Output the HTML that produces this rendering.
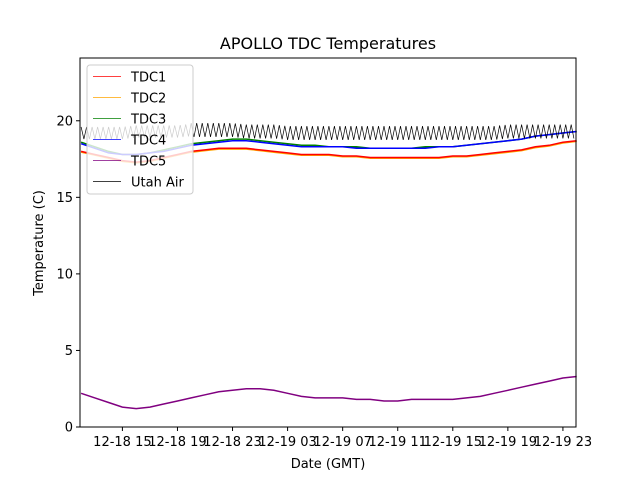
<!DOCTYPE html>
<html><head><meta charset="utf-8"><style>
body{margin:0;background:#fff}
svg{font-family:"DejaVu Sans","Liberation Sans",sans-serif}
</style></head><body>
<svg id="chart" width="640" height="480">
<rect width="640" height="480" fill="#fff"/>
<text x="328" y="49" text-anchor="middle" font-size="16">APOLLO TDC Temperatures</text>
<text x="328" y="468" text-anchor="middle" font-size="13">Date (GMT)</text>
<text transform="translate(43,243) rotate(-90)" text-anchor="middle" font-size="13">Temperature (C)</text>
<g id="plot"></g>
<g id="axes"></g>
</svg>
<script>
const hours=[12,13,14,15,16,17,18,19,20,21,22,23,24,25,26,27,28,29,30,31,32,33,34,35,36,37,38,39,40,41,42,43,44,45,46,47,48];
const tdc1=[18.0,17.8,17.6,17.4,17.3,17.4,17.6,17.8,18.0,18.1,18.2,18.2,18.2,18.1,18.0,17.9,17.8,17.8,17.8,17.7,17.7,17.6,17.6,17.6,17.6,17.6,17.6,17.7,17.7,17.8,17.9,18.0,18.1,18.3,18.4,18.6,18.7];
const tdc2=[17.95,17.75,17.55,17.35,17.25,17.35,17.55,17.75,17.95,18.05,18.15,18.15,18.15,18.05,17.95,17.85,17.75,17.75,17.75,17.65,17.65,17.55,17.55,17.55,17.55,17.55,17.55,17.65,17.65,17.75,17.85,17.95,18.05,18.25,18.35,18.55,18.65];
const tdc3=[18.6,18.3,18.0,17.8,17.8,17.9,18.1,18.3,18.5,18.6,18.7,18.8,18.8,18.7,18.6,18.5,18.4,18.4,18.3,18.3,18.3,18.2,18.2,18.2,18.2,18.3,18.3,18.3,18.4,18.5,18.6,18.7,18.8,19.0,19.1,19.2,19.3];
const tdc4=[18.5,18.2,17.9,17.8,17.8,17.9,18.0,18.2,18.4,18.5,18.6,18.7,18.7,18.6,18.5,18.4,18.3,18.3,18.3,18.3,18.2,18.2,18.2,18.2,18.2,18.2,18.3,18.3,18.4,18.5,18.6,18.7,18.8,19.0,19.1,19.2,19.3];
const tdc5=[2.2,1.9,1.6,1.3,1.2,1.3,1.5,1.7,1.9,2.1,2.3,2.4,2.5,2.5,2.4,2.2,2.0,1.9,1.9,1.9,1.8,1.8,1.7,1.7,1.8,1.8,1.8,1.8,1.9,2.0,2.2,2.4,2.6,2.8,3.0,3.2,3.3];
const air=[19.2,19.2,19.2,19.2,19.3,19.3,19.3,19.3,19.4,19.4,19.4,19.4,19.3,19.3,19.3,19.2,19.2,19.2,19.2,19.2,19.2,19.2,19.2,19.2,19.2,19.2,19.2,19.2,19.2,19.2,19.2,19.3,19.3,19.3,19.3,19.3,19.3];
const airSwing=[0.4,0.4,0.4,0.4,0.4,0.4,0.4,0.4,0.45,0.45,0.45,0.45,0.45,0.45,0.45,0.45,0.45,0.45,0.45,0.45,0.45,0.45,0.45,0.45,0.45,0.45,0.45,0.45,0.45,0.45,0.45,0.45,0.45,0.45,0.45,0.45,0.45];
const yTicks=[0,5,10,15,20];
const xTickHours=[15,19,23,27,31,35,39,43,47];
const xTickLabels=["12-18 15","12-18 19","12-18 23","12-19 03","12-19 07","12-19 11","12-19 15","12-19 19","12-19 23"];
const L=80,R=576,T=58,B=427,X0=11.92,X1=47.95,Y0=0,Y1=24.1;
const sx=h=>L+(h-X0)/(X1-X0)*(R-L);
const sy=v=>B-(v-Y0)/(Y1-Y0)*(B-T);
const NS="http://www.w3.org/2000/svg";
const plot=document.getElementById('plot'),axes=document.getElementById('axes');
function mk(tag,attrs,parent){const e=document.createElementNS(NS,tag);for(const k in attrs)e.setAttribute(k,attrs[k]);parent.appendChild(e);return e;}
function line(vals,color,name){
  const d=vals.map((v,i)=>(i?'L':'M')+sx(hours[i]).toFixed(1)+','+sy(v).toFixed(1)).join('');
  const p=mk('path',{d:d,fill:'none',stroke:color,'stroke-width':1.5},plot);
  
  
}
line(tdc2,'#ffa500','tdc2-line');
line(tdc1,'#ff0000','tdc1-line');
line(tdc3,'#008000','tdc3-line');
line(tdc4,'#0000ff','tdc4-line');
line(tdc5,'#800080','tdc5-line');
(function(){
  let d='';const sub=5;
  for(let i=0;i<hours.length-1;i++){
    for(let s=0;s<sub;s++){
      const t=s/sub;const h=hours[i]+t;
      const base=air[i]+(air[i+1]-air[i])*t;
      const sw=airSwing[i];
      const v=base+((i*sub+s)%2?-sw:sw);
      d+=(d?'L':'M')+sx(h).toFixed(1)+','+sy(v).toFixed(1);
    }
  }
  const p=mk('path',{d:d,fill:'none',stroke:'#000','stroke-width':0.7},plot);
  
  
})();
const frame=mk('rect',{x:L,y:T,width:R-L,height:B-T,fill:'none',stroke:'#000','stroke-width':1},axes);


yTicks.forEach(v=>{
  mk('line',{x1:L-4,x2:L,y1:sy(v),y2:sy(v),stroke:'#000'},axes);
  const t=mk('text',{x:L-7,y:sy(v)+4.5,'text-anchor':'end','font-size':13},axes);
  t.textContent=v;
  
  
});
xTickHours.forEach((h,i)=>{
  mk('line',{x1:sx(h),x2:sx(h),y1:B,y2:B+4,stroke:'#000'},axes);
  const t=mk('text',{x:sx(h),y:B+19,'text-anchor':'middle','font-size':13},axes);
  t.textContent=xTickLabels[i];
  
  
});
const lg=mk('g',{},axes);


mk('rect',{x:87,y:65,width:106,height:129,rx:3,fill:'rgba(255,255,255,0.8)',stroke:'#ccc'},lg);
const names=['TDC1','TDC2','TDC3','TDC4','TDC5','Utah Air'];
const cols=['#ff0000','#ffa500','#008000','#0000ff','#800080','#000'];
names.forEach((n,i)=>{
  const y=76.5+i*21;
  mk('line',{x1:93,x2:121,y1:y,y2:y,stroke:cols[i],'stroke-width':0.8},lg);
  const t=mk('text',{x:131,y:y+5,'font-size':13},lg);
  t.textContent=n;
  
  
});
</script>
</body></html>
